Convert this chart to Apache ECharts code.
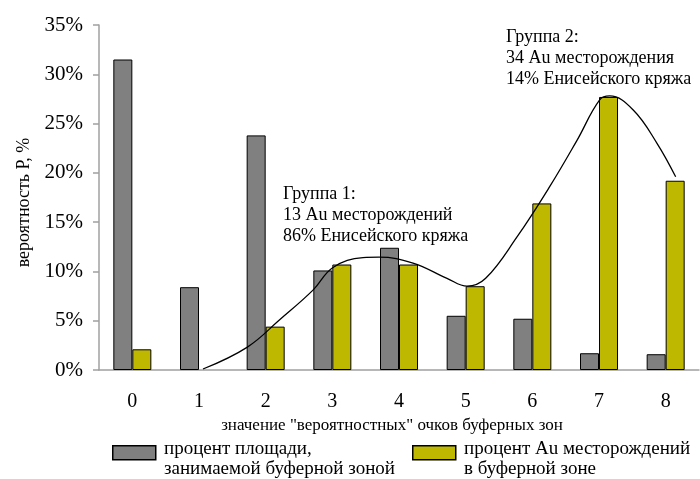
<!DOCTYPE html>
<html>
<head>
<meta charset="utf-8">
<script src="https://cdn.jsdelivr.net/npm/echarts@6/dist/echarts.min.js"></script>
<style>
  html, body { margin: 0; padding: 0; background: #fff; }
  #chart { width: 700px; height: 479px; }
</style>
</head>
<body>
<div id="chart"></div>
<script>
// buffer zone score categories
const categories = ["0", "1", "2", "3", "4", "5", "6", "7", "8"];

// percent of area occupied by the buffer zone
const areaPct = [31.5, 8.4, 23.8, 10.1, 12.4, 5.5, 5.2, 1.7, 1.6];
// percent of Au deposits in the buffer zone (no bar at score 1)
const depositPct = [2.1, null, 4.4, 10.7, 10.7, 8.5, 16.9, 27.7, 19.2];

// hand drawn fitting curve: [score, percent]
const curveX = [1.06, 1.72, 2.21, 2.71, 3.01, 3.46, 3.7, 4.21, 4.72, 5.02, 5.3, 5.77, 6.26, 6.67, 7.01, 7.16, 7.51, 7.87, 8.15];
const curveY = [0.1, 2.3, 5.1, 8.1, 10.4, 11.4, 11.45, 10.85, 9.3, 8.5, 9.3, 13.5, 18.6, 23.3, 27.4, 27.8, 26.4, 23.0, 19.6];

const yTicks = { min: 0, max: 35, step: 5 };

const seriesNames = [
  "процент площади,\nзанимаемой буферной зоной",
  "процент Au месторождений\nв буферной зоне"
];
const group1Text = "Группа 1:\n13 Au месторождений\n86% Енисейского кряжа";
const group2Text = "Группа 2:\n34 Au месторождения\n14% Енисейского кряжа";

const serif = "Liberation Serif";
const grey = "#808080";
const olive = "#BFB800";

const chart = echarts.init(document.getElementById("chart"));

const option = {
  animation: false,
  textStyle: { fontFamily: serif, color: "#000" },
  grid: { left: 99, right: 1, top: 25, bottom: 109 },
  xAxis: [
    {
      type: "category",
      data: categories,
      axisLine: { lineStyle: { color: "#a0a0a0", width: 1.5 } },
      axisTick: { length: 6, lineStyle: { color: "#a0a0a0", width: 1.5 } },
      axisLabel: { fontSize: 20, fontFamily: serif, color: "#000", margin: 22 },
      name: "значение \"вероятностных\" очков буферных зон",
      nameLocation: "middle",
      nameGap: 41,
      nameTextStyle: { fontSize: 17, fontFamily: serif, color: "#000", padding: [0, 14, 0, 0] }
    },
    {
      type: "value",
      min: -0.5,
      max: 8.5,
      show: false
    }
  ],
  yAxis: {
    type: "value",
    min: yTicks.min,
    max: yTicks.max,
    interval: yTicks.step,
    splitLine: { show: false },
    axisLine: { show: true, onZero: false, lineStyle: { color: "#a0a0a0", width: 1.5 } },
    axisTick: { show: true, length: 6, lineStyle: { color: "#a0a0a0", width: 1.5 } },
    axisLabel: { formatter: "{value}%", fontSize: 21, fontFamily: serif, color: "#000", margin: 16 },
    name: "вероятность Р, %",
    nameLocation: "middle",
    nameGap: 65,
    nameTextStyle: { fontSize: 18, fontFamily: serif, color: "#000", padding: [0, 10, 0, 0] }
  },
  series: [
    {
      name: seriesNames[0],
      type: "bar",
      data: areaPct,
      barWidth: 19,
      barGap: "0%",
      itemStyle: { color: grey, borderColor: "#000", borderWidth: 1 }
    },
    {
      name: seriesNames[1],
      type: "bar",
      data: depositPct,
      barWidth: 19,
      barGap: "0%",
      itemStyle: { color: olive, borderColor: "#000", borderWidth: 1 }
    },
    {
      name: "curve",
      type: "line",
      xAxisIndex: 1,
      data: curveX.map((x, i) => [x, curveY[i]]),
      smooth: 0.4,
      showSymbol: false,
      lineStyle: { color: "#000", width: 1.3 },
      z: 5
    }
  ],
  graphic: [
    // legend boxes + texts
    { type: "rect", left: 112, top: 445, shape: { width: 43, height: 14 }, style: { fill: grey, stroke: "#000", lineWidth: 1.5 } },
    { type: "text", left: 164, top: 439, style: { text: seriesNames[0], font: "19px " + serif, lineHeight: 20, fill: "#000" } },
    { type: "rect", left: 412, top: 445, shape: { width: 43, height: 14 }, style: { fill: olive, stroke: "#000", lineWidth: 1.5 } },
    { type: "text", left: 464, top: 439, style: { text: seriesNames[1], font: "19px " + serif, lineHeight: 20, fill: "#000" } },
    // group annotations
    { type: "text", left: 283, top: 184, style: { text: group1Text, font: "18px " + serif, lineHeight: 21, fill: "#000" } },
    { type: "text", left: 506, top: 27, style: { text: group2Text, font: "18px " + serif, lineHeight: 21, fill: "#000" } }
  ]
};

chart.setOption(option);

window.addEventListener("resize", () => chart.resize());
</script>
</body>
</html>
